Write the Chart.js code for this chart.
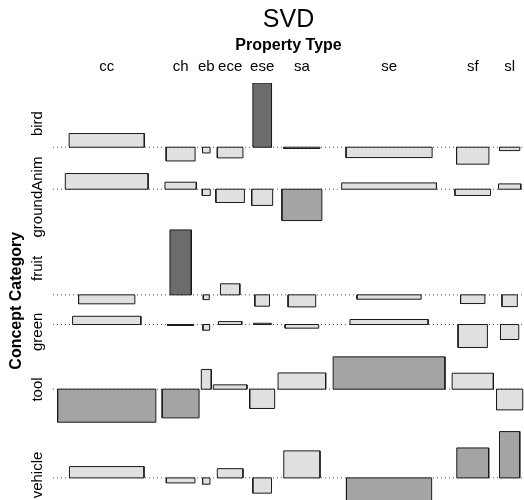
<!DOCTYPE html>
<html>
<head>
<meta charset="utf-8">
<script src="https://cdn.jsdelivr.net/npm/chart.js@4/dist/chart.umd.min.js"></script>
<style>
  html, body { margin: 0; padding: 0; background: #fff; }
  canvas { display: block; }
</style>
</head>
<body>
<canvas id="assoc" width="524" height="500"></canvas>
<script>
// rows and columns of the table
const concepts = ["bird", "groundAnim", "fruit", "green", "tool", "vehicle"];
const properties = ["cc", "ch", "eb", "ece", "ese", "sa", "se", "sf", "sl"];

// Pearson residuals (box heights), one array per concept
const residBird = [0.98, -0.98, -0.41, -0.76, 4.59, -0.09, -0.74, -1.21, -0.24];
const residGroundAnim = [1.12, 0.5, -0.45, -0.95, -1.16, -2.24, 0.45, -0.45, 0.38];
const residFruit = [-0.64, 4.64, -0.34, 0.79, -0.81, -0.86, -0.31, -0.62, -0.84];
const residGreen = [0.59, -0.07, -0.41, 0.21, 0.09, -0.26, 0.36, -1.64, -1.07];
const residTool = [-2.36, -2.05, 1.41, 0.31, -1.38, 1.16, 2.31, 1.14, -1.48];
const residVehicle = [0.81, -0.36, -0.45, 0.66, -1.09, 1.93, -2.9, 2.14, 3.31];

// sqrt of expected counts (box widths)
const sqrtExpBird = [7.53, 2.9, 0.76, 2.57, 1.87, 3.63, 8.63, 3.24, 2.03];
const sqrtExpGroundAnim = [8.3, 3.14, 0.8, 2.86, 2.1, 4.0, 9.5, 3.57, 2.23];
const sqrtExpFruit = [5.64, 2.14, 0.6, 1.94, 1.47, 2.77, 6.43, 2.44, 1.54];
const sqrtExpGreen = [6.84, 2.63, 0.67, 2.34, 1.77, 3.37, 7.83, 2.94, 1.83];
const sqrtExpTool = [9.84, 3.7, 1.0, 3.37, 2.5, 4.77, 11.2, 4.13, 2.63];
const sqrtExpVehicle = [7.47, 2.87, 0.74, 2.57, 1.87, 3.63, 8.54, 3.2, 2.03];

const residuals = [residBird, residGroundAnim, residFruit, residGreen, residTool, residVehicle];
const widths = [sqrtExpBird, sqrtExpGroundAnim, sqrtExpFruit, sqrtExpGreen, sqrtExpTool, sqrtExpVehicle];

// layout like vcd::assoc
const xFill = 0.914;   // box width / column slot
const rowGap = 0.67;   // space between rows (residual units)
const yVisible = 29.8; // residual units shown in the plot height
const font = "'Liberation Sans', Arial, sans-serif";

// column slots and centres
const slots = properties.map((_, j) => Math.max(...widths.map((w) => w[j])) / xFill);
const colCenters = [];
let xc = 0;
slots.forEach((s) => {
  colCenters.push(xc + s / 2);
  xc += s;
});
const xMax = xc;

// row baselines (top to bottom)
const baselines = [];
const rowCenters = [];
let cursor = 0;
residuals.forEach((r) => {
  const hi = Math.max(0, ...r);
  const lo = Math.min(0, ...r);
  baselines.push(cursor - hi);
  rowCenters.push(cursor - (hi - lo) / 2);
  cursor = cursor - (hi - lo) - rowGap;
});

function shade(r) {
  const a = Math.abs(r);
  if (a > 4) return "#6c6c6c";
  if (a > 2) return "#a4a4a4";
  return "#e0e0e0";
}

const datasets = [];

// dotted baselines
baselines.forEach((b) => {
  datasets.push({
    data: [{ x: 0, y: b }, { x: xMax, y: b }],
    showLine: true,
    borderColor: "#555",
    borderWidth: 1,
    borderDash: [1, 3],
    pointRadius: 0,
    fill: false,
    order: 3,
  });
});

// boxes
residuals.forEach((r, i) => {
  const b = baselines[i];
  r.forEach((v, j) => {
    const x0 = colCenters[j] - widths[i][j] / 2;
    const x1 = colCenters[j] + widths[i][j] / 2;
    const t = b + v;
    datasets.push({
      data: [{ x: x0, y: t }, { x: x1, y: t }],
      showLine: true,
      borderWidth: 0,
      pointRadius: 0,
      backgroundColor: shade(v),
      fill: { value: b },
      order: 2,
    });
    datasets.push({
      data: [
        { x: x0, y: b },
        { x: x0, y: t },
        { x: x1, y: t },
        { x: x1, y: b },
        { x: x0, y: b },
      ],
      showLine: true,
      borderColor: "#1a1a1a",
      borderWidth: 1,
      pointRadius: 0,
      fill: false,
      order: 1,
    });
  });
});

// texts around the plot
const labelsPlugin = {
  id: "assocLabels",
  afterDraw(chart) {
    const ctx = chart.ctx;
    const xs = chart.scales.x;
    const ys = chart.scales.y;
    const area = chart.chartArea;
    const mid = (area.left + area.right) / 2;
    ctx.save();
    ctx.fillStyle = "#000";
    ctx.textAlign = "center";
    ctx.textBaseline = "alphabetic";

    ctx.font = "25px " + font;
    ctx.fillText("SVD", mid, 27);

    ctx.font = "bold 16px " + font;
    ctx.fillText("Property Type", mid, 50);

    ctx.font = "15px " + font;
    properties.forEach((p, j) => {
      ctx.fillText(p, xs.getPixelForValue(colCenters[j]), 71);
    });

    ctx.textBaseline = "middle";
    concepts.forEach((c, i) => {
      ctx.save();
      ctx.translate(38, ys.getPixelForValue(rowCenters[i]));
      ctx.rotate(-Math.PI / 2);
      ctx.fillText(c, 0, 0);
      ctx.restore();
    });

    ctx.font = "bold 16px " + font;
    ctx.translate(17, (area.top + ys.getPixelForValue(cursor + rowGap)) / 2);
    ctx.rotate(-Math.PI / 2);
    ctx.fillText("Concept Category", 0, 0);
    ctx.restore();
  },
};

new Chart(document.getElementById("assoc"), {
  type: "scatter",
  data: { datasets: datasets },
  options: {
    responsive: false,
    animation: false,
    devicePixelRatio: 1,
    events: [],
    layout: { padding: { left: 53, top: 83, right: 0, bottom: 0 } },
    scales: {
      x: { type: "linear", min: 0, max: xMax, display: false },
      y: { type: "linear", min: -yVisible, max: 0, display: false },
    },
    plugins: {
      legend: { display: false },
      tooltip: { enabled: false },
      title: { display: false },
    },
  },
  plugins: [labelsPlugin],
});
</script>
</body>
</html>
